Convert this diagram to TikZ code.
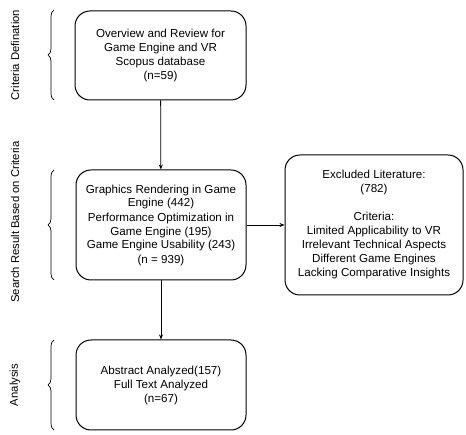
\documentclass[tikz,border=0pt]{standalone}
\usepackage{fontspec}
\setmainfont{Liberation Sans}
\usetikzlibrary{arrows.meta,decorations.pathreplacing}

\begin{document}
\begin{tikzpicture}[x=1pt,y=1pt,
  stagebox/.style={draw,line width=1pt,rounded corners=15pt,align=center,
    font=\fontsize{11.6}{14}\selectfont,inner sep=0pt},
  flow/.style={line width=0.8pt,-{Stealth[length=5pt,width=4pt]}},
  stagebrace/.style={line width=0.7pt,decorate,decoration={brace,amplitude=6pt}},
  sidelabel/.style={rotate=90,font=\fontsize{11.3}{13}\selectfont}]
  \useasboundingbox (0,0) rectangle (466,-435);
  %% boxes
  \node[stagebox,minimum width=171pt,minimum height=89pt] (overview) at (160.5,-55.5)
    {Overview and Review for\\Game Engine and VR\\Scopus database\\(n=59)};
  \node[stagebox,minimum width=170pt,minimum height=110pt] (search) at (161,-225)
    {Graphics Rendering in Game\\Engine (442)\\Performance Optimization in\\Game Engine (195)\\Game Engine Usability (243)\\(n = 939)};
  \node[stagebox,minimum width=178pt,minimum height=140pt] (excluded) at (374,-225)
    {Excluded Literature:\\(782)\\[14pt]Criteria:\\Limited Applicability to VR\\Irrelevant Technical Aspects\\Different Game Engines\\Lacking Comparative Insights};
  \node[stagebox,minimum width=170pt,minimum height=90pt] (analysis) at (161,-385)
    {Abstract Analyzed(157)\\Full Text Analyzed\\(n=67)};
  %% side labels
  \node[sidelabel] (deflabel) at (15,-55) {Criteria Defination};
  \node[sidelabel] (searchlabel) at (15,-222) {Search Result Based on Criteria};
  \node[sidelabel] (analysislabel) at (15,-385) {Analysis};
  %% braces
  \coordinate (b1top) at (54,-10);
  \coordinate (b1bot) at (54,-100);
  \coordinate (b2top) at (54,-170);
  \coordinate (b2bot) at (54,-280);
  \coordinate (b3top) at (54,-340);
  \coordinate (b3bot) at (54,-430);
  \draw[stagebrace] (b1bot) -- (b1top);
  \draw[stagebrace] (b2bot) -- (b2top);
  \draw[stagebrace] (b3bot) -- (b3top);
  %% arrows
  \draw[flow] (overview) -- (search);
  \draw[flow] (search) -- (excluded);
  \draw[flow] (search) -- (analysis);
\end{tikzpicture}
\end{document}
